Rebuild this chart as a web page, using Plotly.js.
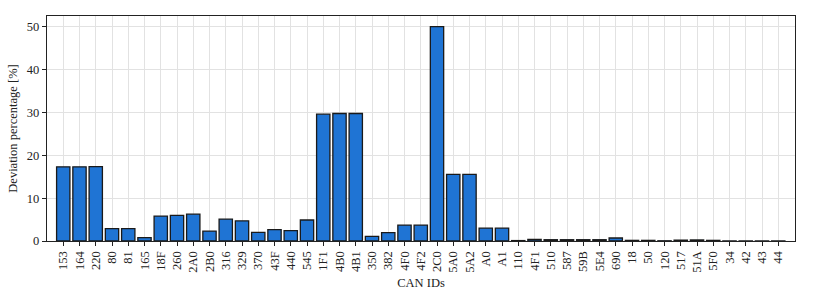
<!DOCTYPE html>
<html>
<head>
<meta charset="utf-8">
<script src="https://cdn.plot.ly/plotly-3.0.1.min.js"></script>
<style>html,body{margin:0;padding:0;background:#fff;}#chart{width:814px;height:300px;}</style>
</head>
<body>
<div id="chart"></div>
<script>
const canIds = ["153","164","220","80","81","165","18F","260","2A0","2B0","316","329","370","43F","440","545","1F1","4B0","4B1","350","382","4F0","4F2","2C0","5A0","5A2","A0","A1","110","4F1","510","587","59B","5E4","690","18","50","120","517","51A","5F0","34","42","43","44"];
const deviation = [17.3,17.3,17.35,2.9,2.9,0.8,5.8,6.0,6.25,2.3,5.1,4.7,2.0,2.65,2.4,4.9,29.6,29.75,29.75,1.1,1.95,3.7,3.7,50.0,15.55,15.55,3.0,3.0,0.1,0.4,0.3,0.3,0.3,0.3,0.7,0.15,0.15,0.05,0.2,0.25,0.15,0.02,0.02,0.02,0.02];

const font = "Liberation Serif, DejaVu Serif, serif";
const trace = {
  type: "bar",
  x: canIds,
  y: deviation,
  width: 0.82,
  marker: {color: "#1f74d4", line: {color: "#1a1a1a", width: 1.3}},
  hoverinfo: "x+y"
};
const layout = {
  width: 814, height: 300,
  margin: {l: 47, r: 19, t: 16, b: 59},
  paper_bgcolor: "#fff", plot_bgcolor: "#fff",
  font: {family: font, size: 12, color: "#222"},
  showlegend: false,
  xaxis: {
    type: "category",
    range: [-1.0, canIds.length - 1 + 1.03],
    tickangle: -90,
    ticks: "outside", ticklen: 4, tickcolor: "#222",
    showgrid: true, gridcolor: "#e2e2e2", gridwidth: 1,
    showline: true, linecolor: "#222", linewidth: 1.2, mirror: true,
    tickfont: {family: font, size: 12.5, color: "#222"},
    title: {text: "CAN IDs", font: {family: font, size: 12.5, color: "#222"}, standoff: 6},
    automargin: false
  },
  yaxis: {
    range: [0, 52.5],
    tickvals: [0,10,20,30,40,50],
    ticks: "outside", ticklen: 4, tickcolor: "#222",
    showgrid: true, gridcolor: "#e2e2e2", gridwidth: 1,
    zeroline: false,
    showline: true, linecolor: "#222", linewidth: 1.2, mirror: true,
    tickfont: {family: font, size: 12.5, color: "#222"},
    title: {text: "Deviation percentage [%]", font: {family: font, size: 12.5, color: "#222"}, standoff: 6},
    automargin: false
  }
};
Plotly.newPlot("chart", [trace], layout, {displayModeBar: false, staticPlot: true});
</script>
</body>
</html>
